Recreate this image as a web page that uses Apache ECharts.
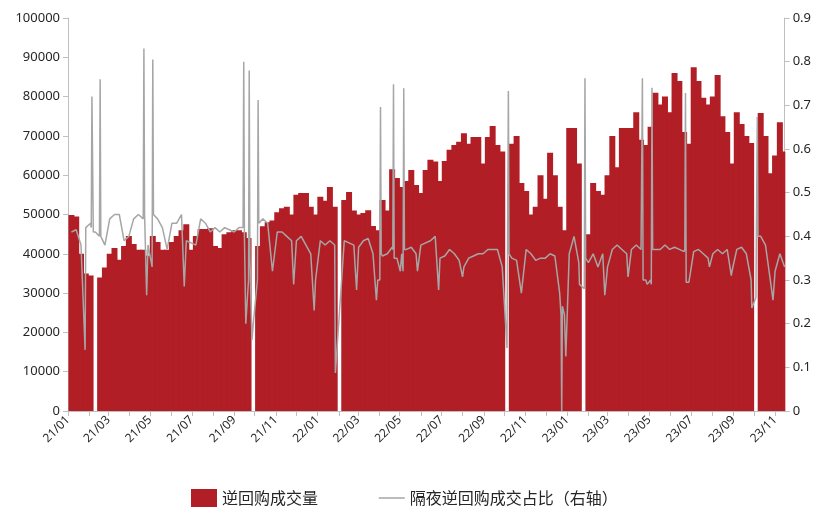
<!DOCTYPE html>
<html><head><meta charset="utf-8">
<script src="https://cdn.jsdelivr.net/npm/echarts@6/dist/echarts.min.js"></script>
<style>html,body{margin:0;padding:0;background:#fff}#c{width:814px;height:507px}</style>
</head><body><div id="c"></div>
<script>
// axis range (daily category axis)
const axisStart = '2021-01-01';
const axisEnd = '2023-11-15';
// weekly samples, centred on Wednesdays starting from this date
const weekStart = '2021-01-06';
// 逆回购成交量 (weekly reading, null = holiday gap)
const volume = [49900,49500,40000,35000,34500,null,34000,36500,40000,41500,
38500,42000,44500,42500,41000,41000,39500,44500,43000,41000,
41000,43000,44500,46000,47500,41000,44500,46300,46300,46500,
42000,41500,45000,45500,46000,46000,45500,44000,null,42000,
47000,48000,48500,50600,51600,52000,50000,55000,55500,55500,
52000,50000,54500,53500,57000,52000,null,53700,55700,51000,
50000,50400,51100,47100,46000,53700,51000,61500,59300,57000,
58500,61300,57500,55500,61300,63900,63500,58500,63600,66500,
67700,68500,70700,68000,69700,69700,63000,69700,72500,67700,
66000,null,68000,70000,58000,56000,50000,52000,60000,54000,
65700,60000,52000,46000,72000,72000,63000,null,45000,58000,
56000,55000,60000,70000,62000,72000,72000,72000,76000,69000,
67700,72300,81000,78000,80000,76000,86000,84000,71000,68000,
87500,84000,79700,78000,80000,85500,75000,71000,63000,76000,
73000,70000,68200,null,75800,70000,60500,65000,73500,66000];
// 隔夜逆回购成交占比 weekly baseline
const ratioWeekly = [0.41,0.415,0.38,0.42,0.43,0.41,0.39,0.38,0.44,0.45,
0.45,0.39,0.40,0.44,0.45,0.44,0.38,0.44,0.44,0.42,
0.37,0.43,0.43,0.45,0.39,0.385,0.38,0.44,0.43,0.41,
0.42,0.41,0.42,0.415,0.41,0.42,0.42,0.35,0.20,0.43,
0.44,0.43,0.40,0.41,0.41,0.40,0.39,0.39,0.40,0.38,
0.36,0.30,0.39,0.38,0.39,0.38,null,0.39,0.385,0.38,
0.375,0.39,0.395,0.36,0.30,0.355,0.36,0.375,0.35,0.36,
0.37,0.375,0.36,0.38,0.385,0.39,0.40,0.35,0.355,0.37,
0.36,0.345,0.33,0.35,0.355,0.36,0.36,0.37,0.37,0.37,
0.33,null,0.35,0.345,0.30,0.37,0.36,0.345,0.35,0.35,
0.36,0.355,0.30,0.22,0.36,0.40,0.34,null,0.34,0.36,
0.33,0.36,0.33,0.37,0.38,0.37,0.36,0.37,0.38,0.37,
0.30,0.30,0.37,0.37,0.38,0.37,0.375,0.37,0.365,0.295,
0.365,0.37,0.36,0.35,0.36,0.37,0.36,0.37,0.32,0.37,
0.375,0.36,0.30,0.26,0.40,0.38,0.30,0.32,0.36,0.33];
// single-day spikes and dips of the ratio
const ratioEvents = [
['2021-01-26',0.14],['2021-02-04',0.42],['2021-02-05',0.72],['2021-02-07',0.41],
['2021-02-16',0.40],['2021-02-17',0.76],['2021-02-18',0.40],
['2021-04-21',0.44],['2021-04-22',0.83],['2021-04-23',0.45],['2021-04-26',0.265],
['2021-05-04',0.33],['2021-05-05',0.805],['2021-05-06',0.45],
['2021-06-20',0.285],
['2021-09-14',0.42],['2021-09-15',0.80],['2021-09-16',0.40],['2021-09-18',0.20],
['2021-09-22',0.30],['2021-09-23',0.78],['2021-09-24',0.35],['2021-09-27',0.163],
['2021-10-05',0.30],['2021-10-06',0.712],['2021-10-07',0.43],
['2021-10-27',0.32],['2021-11-27',0.29],['2021-12-27',0.23],['2022-01-27',0.087],
['2022-02-27',0.277],['2022-03-28',0.254],
['2022-04-02',0.30],['2022-04-03',0.696],['2022-04-04',0.36],
['2022-04-21',0.37],['2022-04-22',0.748],['2022-04-23',0.35],['2022-05-02',0.32],
['2022-05-06',0.32],['2022-05-07',0.739],['2022-05-08',0.37],
['2022-05-27',0.32],['2022-06-27',0.277],['2022-08-01',0.307],
['2022-10-02',0.224],['2022-10-05',0.144],['2022-10-07',0.733],['2022-10-08',0.36],
['2022-10-26',0.27],['2022-12-21',0.27],['2022-12-23',0.22],['2022-12-24',0.0],
['2022-12-25',0.24],['2022-12-30',0.125],['2023-01-19',0.29],
['2023-01-26',0.28],['2023-01-27',0.762],['2023-01-28',0.35],
['2023-02-25',0.265],['2023-03-31',0.307],
['2023-04-20',0.37],['2023-04-21',0.762],['2023-04-22',0.30],['2023-04-28',0.29],
['2023-05-04',0.29],['2023-05-05',0.74],['2023-05-06',0.37],
['2023-06-22',0.37],['2023-06-23',0.728],['2023-06-24',0.295],['2023-06-26',0.295],
['2023-07-28',0.33],['2023-08-29',0.31],['2023-09-28',0.236],
['2023-10-05',0.26],['2023-10-06',0.673],['2023-10-07',0.40],['2023-10-29',0.254]
];
const seriesNames = ['逆回购成交量','隔夜逆回购成交占比（右轴）'];

function fmt(d){return d.toISOString().slice(0,10);}
function addDays(s,n){const d=new Date(s+'T00:00:00Z');d.setUTCDate(d.getUTCDate()+n);return fmt(d);}
const days=[];
for(let s=axisStart; s<=axisEnd; s=addDays(s,1)) days.push(s);
const weekDates = volume.map((_,i)=>addDays(weekStart,7*i));
const barData = [];
volume.forEach((v,i)=>{ if(v!==null && weekDates[i]<=axisEnd) barData.push([weekDates[i],v]); });
const lineMap = new Map();
ratioWeekly.forEach((v,i)=>{ if(v!==null && weekDates[i]<=axisEnd) lineMap.set(weekDates[i],v); });
ratioEvents.forEach(e=>lineMap.set(e[0],e[1]));
const lineData = Array.from(lineMap.entries()).sort((a,b)=>a[0]<b[0]?-1:1);

const chart = echarts.init(document.getElementById('c'),null,{renderer:'canvas'});
const txt = '#262626', axisCol = '#bfbfbf';
chart.setOption({
  animation:false,
  textStyle:{fontFamily:'"Noto Sans","Noto Sans CJK SC",sans-serif'},
  grid:{left:68,right:29,top:18,bottom:96,containLabel:false},
  legend:{left:186,top:484,itemWidth:26,itemHeight:18,itemGap:60,
    textStyle:{fontSize:16,color:txt,fontFamily:'"Noto Sans CJK SC",sans-serif'},
    data:[{name:seriesNames[0],icon:'rect'},
          {name:seriesNames[1],itemStyle:{opacity:0},lineStyle:{color:'#a6a6a6',width:1.5}}]},
  xAxis:{type:'category',data:days,boundaryGap:false,
    axisLine:{lineStyle:{color:axisCol,width:1}},
    axisTick:{show:true,length:5,interval:(i,v)=>v.slice(8)==='01',lineStyle:{color:axisCol}},
    axisLabel:{interval:(i,v)=>v.slice(8)==='01' && (+v.slice(5,7))%2===1,
      formatter:v=>v.slice(2,4)+'/'+v.slice(5,7),rotate:45,color:txt,fontSize:12,margin:7}},
  yAxis:[
    {type:'value',min:0,max:100000,interval:10000,
     axisLine:{show:true,lineStyle:{color:axisCol}},axisTick:{show:true,length:5,lineStyle:{color:axisCol}},
     splitLine:{show:false},axisLabel:{color:txt,fontSize:13,margin:8,formatter:v=>String(v)}},
    {type:'value',min:0,max:0.9,interval:0.1,
     axisLine:{show:true,lineStyle:{color:axisCol}},axisTick:{show:true,length:5,lineStyle:{color:axisCol}},
     splitLine:{show:false},axisLabel:{color:txt,fontSize:13,margin:8,
       formatter:v=>v===0?'0':(+v).toFixed(1)}}
  ],
  series:[
    {name:seriesNames[0],type:'bar',data:barData,barWidth:6,barGap:'-100%',
     itemStyle:{color:'#b21e25'},clip:true},
    {name:seriesNames[1],type:'line',yAxisIndex:1,data:lineData,symbol:'none',showSymbol:false,
     lineStyle:{color:'#a6a6a6',width:1.5},itemStyle:{color:'#a6a6a6'}}
  ]
});
</script></body></html>
